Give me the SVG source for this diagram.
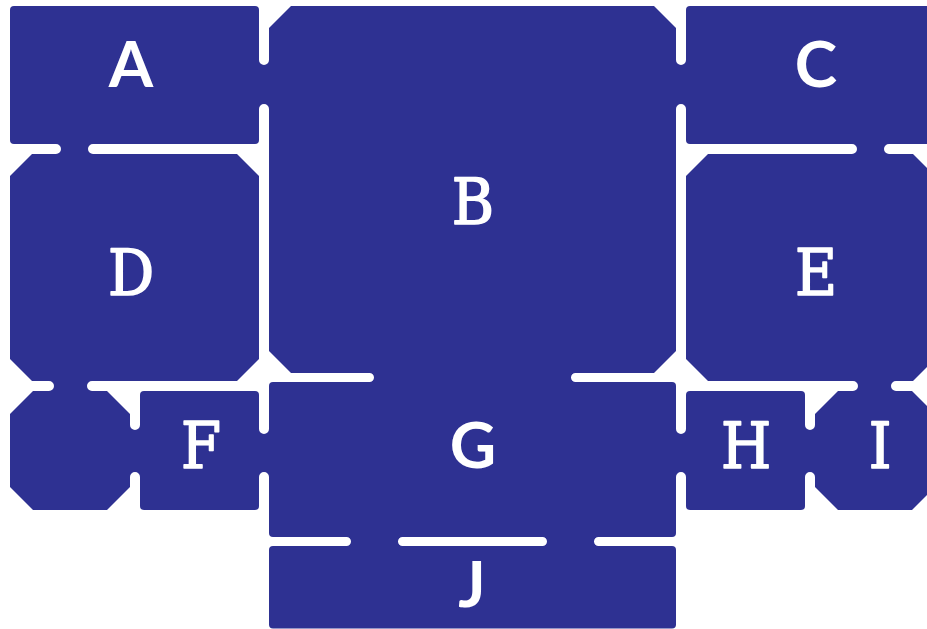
<svg xmlns="http://www.w3.org/2000/svg" width="927" height="629" viewBox="0 0 927 629">
  <style>
    .room { fill: #2e3192; }
    .door { fill: #2e3192; }
    .lbl { fill: #ffffff; font-size: 64px; text-anchor: middle; }
    .sans { font-family: "Lato", "Liberation Sans", sans-serif; font-weight: 700; }
    .slab { font-family: "DejaVu Serif Condensed", "DejaVu Serif", serif; font-stretch: condensed; font-weight: 400; stroke: #ffffff; stroke-width: 1.6px; stroke-linejoin: round; }
  </style>
  <rect width="927" height="629" fill="#ffffff"/>
  <g id="room-A">
    <rect class="room" x="10" y="6" width="249" height="138" rx="4"/>
    <text class="lbl sans" x="131" y="87">A</text>
  </g>
  <g id="room-B">
    <polygon class="room" points="291,6 654,6 676,28 676,351 654,373 291,373 269,351 269,28"/>
    <text class="lbl slab" x="473" y="224">B</text>
  </g>
  <g id="room-C">
    <rect class="room" x="686" y="6" width="249" height="138" rx="4"/>
    <text class="lbl sans" x="816" y="87">C</text>
  </g>
  <g id="room-D">
    <polygon class="room" points="32,154 237,154 259,176 259,359 237,381 32,381 10,359 10,176"/>
    <text class="lbl slab" x="131" y="295">D</text>
  </g>
  <g id="room-E">
    <polygon class="room" points="708,154 913,154 935,176 935,359 913,381 708,381 686,359 686,176"/>
    <text class="lbl slab" x="816" y="295">E</text>
  </g>
  <g id="room-unlabeled">
    <polygon class="room" points="33,391 107,391 130,414 130,487 107,510 33,510 10,487 10,414"/>
  </g>
  <g id="room-F">
    <rect class="room" x="140" y="391" width="119" height="119" rx="4"/>
    <text class="lbl slab" x="201" y="468">F</text>
  </g>
  <g id="room-G">
    <rect class="room" x="269" y="382" width="407" height="155" rx="4"/>
    <text class="lbl sans" x="473" y="468">G</text>
  </g>
  <g id="room-H">
    <rect class="room" x="686" y="391" width="119" height="119" rx="4"/>
    <text class="lbl slab" x="746" y="468">H</text>
  </g>
  <g id="room-I">
    <polygon class="room" points="838,391 912,391 935,414 935,487 912,510 838,510 815,487 815,414"/>
    <text class="lbl slab" x="880" y="468">I</text>
  </g>
  <g id="room-J">
    <rect class="room" x="269" y="546" width="407" height="82.5" rx="4"/>
    <text class="lbl sans" x="472" y="607">J</text>
  </g>
  <g id="doors">
    <path class="door" d="M56,144 H93 A5,5 0 0 0 93,154 H56 A5,5 0 0 0 56,144 Z"/>
    <path class="door" d="M852,144 H889 A5,5 0 0 0 889,154 H852 A5,5 0 0 0 852,144 Z"/>
    <path class="door" d="M49,381 H92 A5,5 0 0 0 92,391 H49 A5,5 0 0 0 49,381 Z"/>
    <path class="door" d="M853,381 H896 A5,5 0 0 0 896,391 H853 A5,5 0 0 0 853,381 Z"/>
    <path class="door" d="M369.5,373 H575.5 A4.5,4.5 0 0 0 575.5,382 H369.5 A4.5,4.5 0 0 0 369.5,373 Z"/>
    <path class="door" d="M346.5,537 H402.5 A4.5,4.5 0 0 0 402.5,546 H346.5 A4.5,4.5 0 0 0 346.5,537 Z"/>
    <path class="door" d="M542.5,537 H598.5 A4.5,4.5 0 0 0 598.5,546 H542.5 A4.5,4.5 0 0 0 542.5,537 Z"/>
    <path class="door" d="M259,60 V109 A5,5 0 0 1 269,109 V60 A5,5 0 0 1 259,60 Z"/>
    <path class="door" d="M676,60 V109 A5,5 0 0 1 686,109 V60 A5,5 0 0 1 676,60 Z"/>
    <path class="door" d="M130,425 V477 A5,5 0 0 1 140,477 V425 A5,5 0 0 1 130,425 Z"/>
    <path class="door" d="M259,429 V477 A5,5 0 0 1 269,477 V429 A5,5 0 0 1 259,429 Z"/>
    <path class="door" d="M676,429 V477 A5,5 0 0 1 686,477 V429 A5,5 0 0 1 676,429 Z"/>
    <path class="door" d="M805,425 V477 A5,5 0 0 1 815,477 V425 A5,5 0 0 1 805,425 Z"/>
  </g>
</svg>
